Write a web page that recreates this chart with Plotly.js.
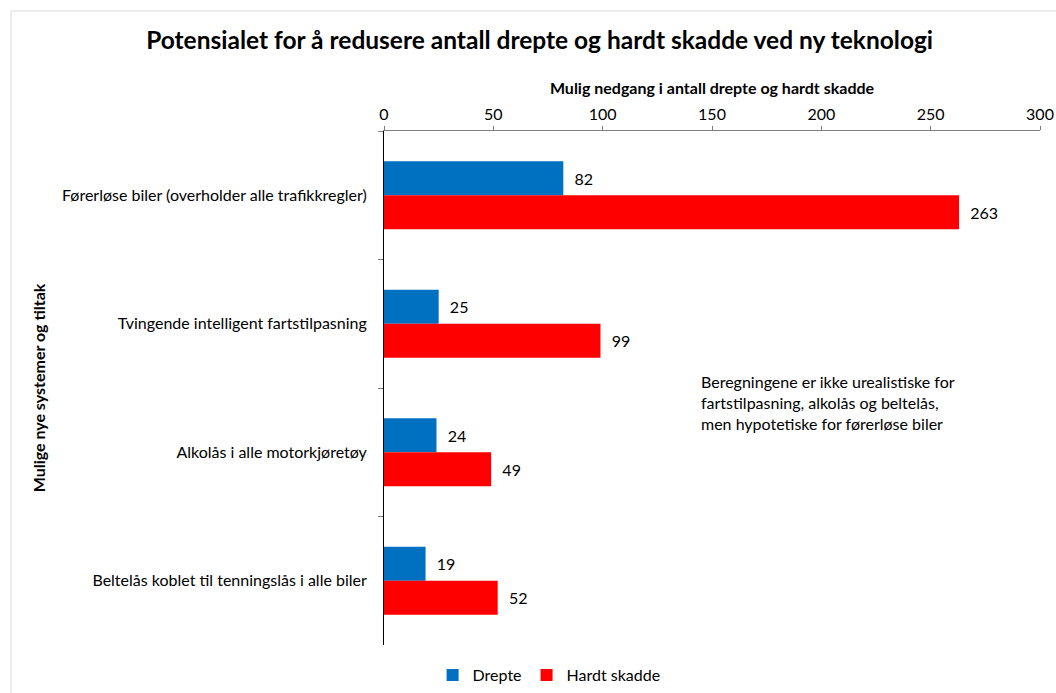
<!DOCTYPE html>
<html>
<head>
<meta charset="utf-8">
<script src="https://cdn.plot.ly/plotly-3.0.1.min.js"></script>
<style>html,body{margin:0;padding:0;background:#fff;}#chart{width:1056px;height:693px;}</style>
</head>
<body>
<div id="chart"></div>
<script>
const categories = [
  "Førerløse biler (overholder alle trafikkregler)",
  "Tvingende intelligent fartstilpasning",
  "Alkolås i alle motorkjøretøy",
  "Beltelås koblet til tenningslås i alle biler"
];
const drepte = [82, 25, 24, 19];
const hardtSkadde = [263, 99, 49, 52];
const seriesNames = ["Drepte", "Hardt skadde"];
const chartTitle = "Potensialet for å redusere antall drepte og hardt skadde ved ny teknologi";
const xTitle = "Mulig nedgang i antall drepte og hardt skadde";
const yTitle = "Mulige nye systemer og tiltak";
const noteText = "Beregningene er ikke urealistiske for<br>fartstilpasning, alkolås og beltelås,<br>men hypotetiske for førerløse biler";

const font = "Lato, 'Open Sans', sans-serif";

const traces = [
  {type:"bar", orientation:"h", name:seriesNames[0], y:categories, x:drepte,
   marker:{color:"#0070C0"}, texttemplate:"\u00a0\u00a0%{x}", textposition:"outside",
   textfont:{size:16,color:"#000",family:font}, cliponaxis:false, hoverinfo:"x"},
  {type:"bar", orientation:"h", name:seriesNames[1], y:categories, x:hardtSkadde,
   marker:{color:"#FF0000"}, texttemplate:"\u00a0\u00a0%{x}", textposition:"outside",
   textfont:{size:16,color:"#000",family:font}, cliponaxis:false, hoverinfo:"x"}
];

const layout = {
  width:1056, height:693,
  margin:{l:384, r:16, t:131, b:48},
  paper_bgcolor:"#fff", plot_bgcolor:"#fff",
  font:{family:font, size:16, color:"#000"},
  title:{text:"<b>"+chartTitle+"</b>", x:0.511, xref:"container", xanchor:"center", y:0.942, yref:"container", yanchor:"middle", font:{size:24.5, family:font, color:"#000"}},
  barmode:"group", bargap:0.47, bargroupgap:0,
  showlegend:true,
  legend:{orientation:"h", x:0.52, xref:"container", xanchor:"center", y:0.026, yref:"container", yanchor:"middle", font:{size:16,family:font}, traceorder:"normal", itemwidth:30},
  xaxis:{side:"top", range:[0,300], dtick:50, tick0:0, showgrid:false, zeroline:false,
         showline:true, linecolor:"#7f7f7f", linewidth:1, ticks:"outside", ticklen:4, tickcolor:"#7f7f7f",
         tickfont:{size:16,family:font}, fixedrange:true,
         title:{text:"<b>"+xTitle+"</b>", font:{size:16,family:font}, standoff:4}},
  yaxis:{autorange:"reversed", showgrid:false, zeroline:false, showline:true, linecolor:"#000", linewidth:1,
         ticks:"outside", ticklen:5, tickcolor:"#7f7f7f", tickson:"boundaries",
         tickfont:{size:16,family:font}, ticklabelstandoff:13, fixedrange:true,
         title:{text:"<b>"+yTitle+"</b>", font:{size:16,family:font}, standoff:12}},
  annotations:[
    {text:noteText, xref:"x", yref:"paper", x:144, y:0.471, xanchor:"left", yanchor:"middle", align:"left", showarrow:false, font:{size:16,family:font,color:"#000"}}
  ],
  shapes:[
    {type:"rect", xref:"paper", yref:"paper", x0:(11-384)/656, x1:1.05, y0:-0.2, y1:(645-11)/514, line:{color:"#d9d9d9", width:1}, fillcolor:"rgba(0,0,0,0)", layer:"below"}
  ]
};

Plotly.newPlot("chart", traces, layout, {displayModeBar:false, staticPlot:true});
</script>
</body>
</html>
